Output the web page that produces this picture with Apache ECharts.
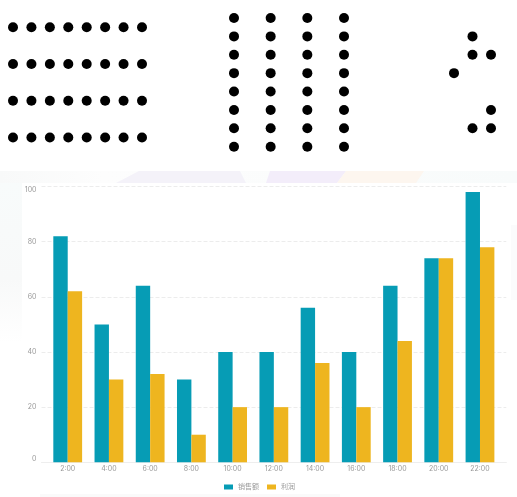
<!DOCTYPE html>
<html>
<head>
<meta charset="utf-8">
<style>html,body{margin:0;padding:0;background:#fff}#c{width:517px;height:497px}</style>
<script src="https://cdn.jsdelivr.net/npm/echarts@6/dist/echarts.min.js"></script>
</head>
<body>
<div id="c"></div>
<script>
const categories = ['2:00','4:00','6:00','8:00','10:00','12:00','14:00','16:00','18:00','20:00','22:00'];
const salesValues = [82,50,64,30,40,40,56,40,64,74,98];
const profitValues = [62,30,32,10,20,20,36,20,44,74,78];
const yTicks = {min:0,max:100,interval:20};
const seriesNames = ['销售额','利润'];
const dotRowsA = [0,1,2,3];
const dotColsA = [0,1,2,3,4,5,6,7];
const dotRowsB = [0,1,2,3,4,5,6,7];
const dotColsB = [0,1,2,3];
const dotsC = [[1,1],[1,2],[2,2],[0,3],[2,5],[1,6],[2,6]];

const crossDots = (cols, rows) => rows.flatMap(r => cols.map(c => [c, r]));
const dotSeries = (i, data) => ({
  type:'scatter', xAxisIndex:i, yAxisIndex:i, data, symbolSize:10, clip:false,
  silent:true, itemStyle:{color:'#000', opacity:1}, legendHoverLink:false, z:5
});
const hiddenAxis = (gridIndex, min, max, inverse) =>
  ({type:'value', gridIndex, min, max, inverse:!!inverse, show:false});

const FONT = 'Inter,"Noto Sans CJK SC",sans-serif';
const band = (points, fill) => ({type:'polygon', silent:true, z:-10, shape:{points}, style:{fill}});

const chart = echarts.init(document.getElementById('c'), null, {renderer:'canvas'});
chart.setOption({
  animation:false,
  backgroundColor:'#fff',
  graphic:[
    {type:'rect', silent:true, z:-11, shape:{x:0,y:171,width:517,height:12},
      style:{fill:new echarts.graphic.LinearGradient(0,0,1,0,[
        {offset:0,color:'#f8f9f9'},{offset:.2,color:'#fdfdfd'},{offset:1,color:'#f8fbfb'}])}},
    band([[116,183],[139,171],[240,171],[246,183]],'#f4f2f9'),
    band([[266,183],[270,171],[346,171],[337,183]],'#f3edfa'),
    band([[337,183],[346,171],[424,171],[416,183]],'#fdf6ef'),
    {type:'rect', silent:true, z:-11, shape:{x:0,y:183,width:22,height:160},
      style:{fill:new echarts.graphic.LinearGradient(0,0,0,1,[
        {offset:0,color:'#f8fbfb'},{offset:.6,color:'#f8f9f9'},{offset:1,color:'#ffffff'}])}},
    {type:'rect', silent:true, z:-11, shape:{x:40,y:494,width:300,height:3}, style:{fill:'#fafafa'}},
    {type:'rect', silent:true, z:-11, shape:{x:511,y:225,width:6,height:75}, style:{fill:'#fbfbfc'}}
  ],
  legend:{
    data:seriesNames, top:478.5, left:219, itemWidth:9, itemHeight:5, itemGap:8,
    icon:'rect', textStyle:{fontSize:7, color:'#999', fontFamily:FONT}, selectedMode:false
  },
  grid:[
    {left:41.5, top:186.5, width:464.8, height:275.8},
    {left:47.1, top:186.5, width:453.5, height:275.8},
    {left:13, top:27.3, width:129, height:110.2},
    {left:234, top:18, width:110, height:128.7},
    {left:454, top:18, width:37, height:128.7}
  ],
  xAxis:[
    {type:'value', gridIndex:0, min:0, max:1, splitLine:{show:false}, axisLabel:{show:false}, axisTick:{show:false},
      axisLine:{show:true, lineStyle:{color:'#eeeeee', width:1}}},
    {type:'category', gridIndex:1, data:categories, axisLine:{show:false}, axisTick:{show:false},
      axisLabel:{fontSize:7, color:'#999', margin:3.5, fontFamily:FONT, interval:0}},
    hiddenAxis(2,0,7), hiddenAxis(3,0,3), hiddenAxis(4,0,2)
  ],
  yAxis:[
    {type:'value', gridIndex:0, min:yTicks.min, max:yTicks.max, interval:yTicks.interval,
      axisLine:{show:false}, axisTick:{show:false},
      axisLabel:{fontSize:7, color:'#999', margin:5, fontFamily:FONT, verticalAlignMinLabel:'bottom', verticalAlignMaxLabel:'top'},
      splitLine:{show:true, lineStyle:{type:'dashed', color:'#ececec', width:1}}},
    {type:'value', gridIndex:1, min:yTicks.min, max:yTicks.max, show:false, splitLine:{show:false}},
    hiddenAxis(2,0,3,true), hiddenAxis(3,0,7,true), hiddenAxis(4,0,7,true)
  ],
  series:[
    {name:seriesNames[0], type:'bar', xAxisIndex:1, yAxisIndex:1, data:salesValues, barWidth:14.4, barGap:0, itemStyle:{color:'#069cb5'}},
    {name:seriesNames[1], type:'bar', xAxisIndex:1, yAxisIndex:1, data:profitValues, barWidth:14.4, barGap:0, itemStyle:{color:'#eeb51f'}},
    dotSeries(2, crossDots(dotColsA, dotRowsA)),
    dotSeries(3, crossDots(dotColsB, dotRowsB)),
    dotSeries(4, dotsC)
  ]
});
</script>
</body>
</html>
